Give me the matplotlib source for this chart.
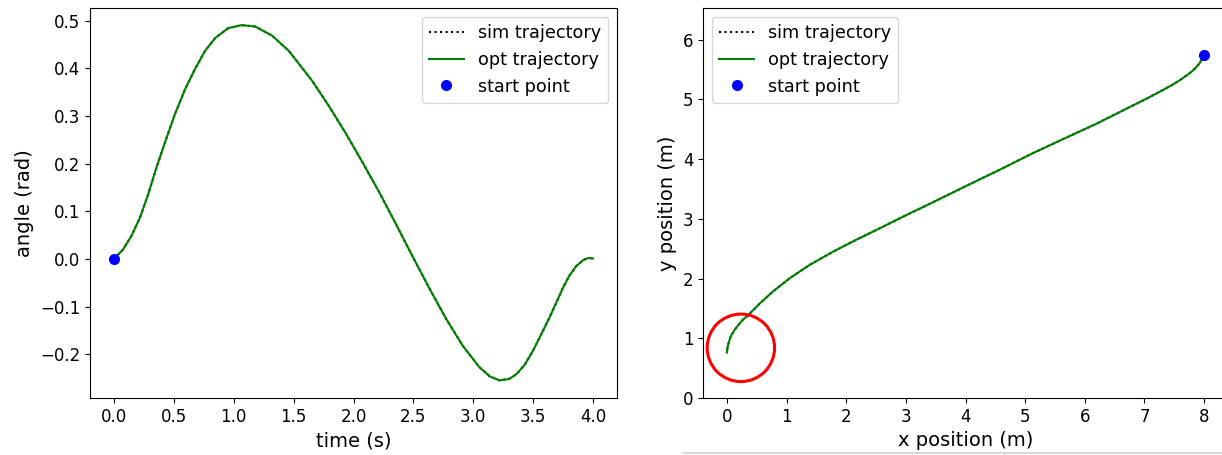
import numpy as np
import matplotlib
matplotlib.use("Agg")
import matplotlib.pyplot as plt
from matplotlib.patches import Circle
from matplotlib.lines import Line2D

# angle trajectory
t = np.array([0.0, 0.076, 0.145, 0.216, 0.285, 0.355, 0.425, 0.509, 0.593, 0.677,
              0.761, 0.845, 0.956, 1.068, 1.18, 1.32, 1.46, 1.516, 1.655, 1.795,
              1.935, 2.075, 2.215, 2.355, 2.494, 2.634, 2.774, 2.914, 3.05, 3.14,
              3.22, 3.30, 3.36, 3.43, 3.50, 3.57, 3.64, 3.70, 3.75, 3.80,
              3.86, 3.92, 3.96, 4.0])
angle = np.array([0.0, 0.020, 0.048, 0.086, 0.135, 0.192, 0.244, 0.304, 0.356, 0.399,
                  0.437, 0.464, 0.485, 0.491, 0.488, 0.469, 0.437, 0.419, 0.374, 0.321,
                  0.264, 0.203, 0.140, 0.073, 0.005, -0.062, -0.126, -0.183, -0.227, -0.247,
                  -0.255, -0.252, -0.242, -0.222, -0.192, -0.157, -0.121, -0.088, -0.060, -0.036,
                  -0.015, -0.002, 0.002, 0.001])

# x-y trajectory, from start point to the end
xs = np.array([8.0, 7.96, 7.92, 7.84, 7.76, 7.62, 7.48, 7.26, 7.03, 6.75,
               6.47, 6.19, 5.69, 5.13, 4.57, 4.01, 3.46, 2.90, 2.56, 2.17,
               1.78, 1.39, 1.06, 0.78, 0.55, 0.36, 0.26, 0.19, 0.13, 0.08,
               0.05, 0.03, 0.01, 0.0])
ys = np.array([5.75, 5.67, 5.60, 5.51, 5.44, 5.34, 5.25, 5.13, 5.01, 4.87,
               4.73, 4.59, 4.36, 4.10, 3.82, 3.55, 3.28, 3.01, 2.84, 2.65,
               2.45, 2.23, 2.01, 1.79, 1.58, 1.39, 1.30, 1.22, 1.14, 1.06,
               0.99, 0.92, 0.84, 0.76])

plt.rcParams['font.size'] = 12

fig = plt.figure(figsize=(12.22, 4.55), dpi=100)

#%% angle vs time
ax1 = fig.add_axes([90/1222, 57/455, 527/1222, 390/455])
ax1.plot(t, angle, "k:", label="sim trajectory")
ax1.plot(t, angle, "g-", label="opt trajectory")
ax1.plot(t[0], angle[0], "bo", markersize=7, label="start point")
ax1.set_xlim(-0.2, 4.2)
ax1.set_ylim(-0.292, 0.527)
ax1.set_xticks(np.arange(0, 4.01, 0.5))
ax1.set_xlabel("time (s)", fontsize=14)
ax1.set_ylabel("angle (rad)", fontsize=14)
ax1.legend(loc="upper right", fontsize=12.7)

#%% x-y position
ax2 = fig.add_axes([703/1222, 57/455, 525/1222, 390/455])
ax2.plot(xs, ys, "k:", label="sim trajectory")
ax2.plot(xs, ys, "g-", label="opt trajectory")
ax2.plot(xs[0], ys[0], "bo", markersize=7, label="start point")
ax2.set_xlim(-0.4, 8.4)
ax2.set_ylim(0, 6.53)
ax2.set_xticks(range(0, 9))
ax2.set_yticks(range(0, 7))
ax2.set_xlabel("x position (m)", fontsize=14)
ax2.set_ylabel("y position (m)", fontsize=14)
ax2.legend(loc="upper left", fontsize=12.7)
ax2.add_patch(Circle((0.235, 0.84), 0.565, fill=False, edgecolor="red", linewidth=2.2, zorder=5))

# grey line at the bottom edge of the screenshot
fig.add_artist(Line2D([683/1222, 1.0], [2.5/455, 2.5/455], color="#d0d0d0", linewidth=1.2))

fig.savefig("out.png", dpi=100)
